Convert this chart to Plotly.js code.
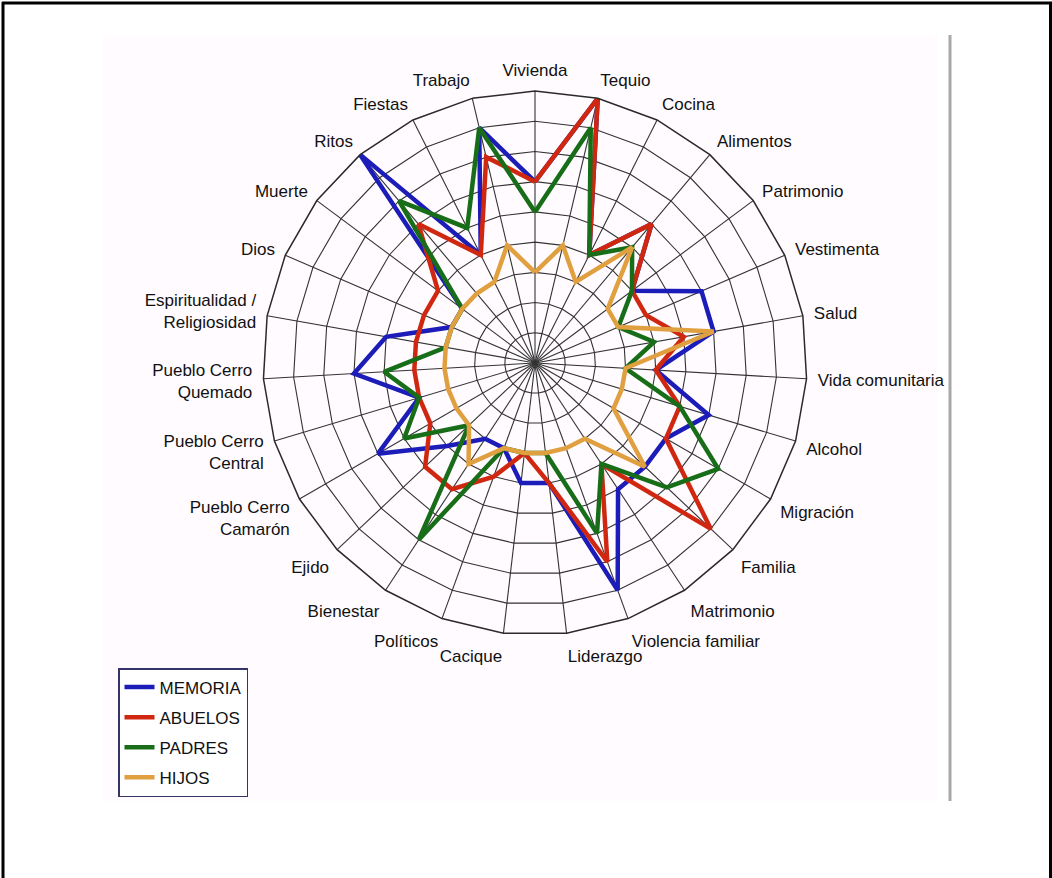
<!DOCTYPE html>
<html>
<head>
<meta charset="utf-8">
<script src="https://cdn.plot.ly/plotly-3.0.1.min.js"></script>
<style>
  html, body { margin: 0; padding: 0; background: #ffffff; }
  #chart { width: 1052px; height: 878px; }
</style>
</head>
<body>
<div id="chart"></div>
<script>
// Categories, clockwise from the top
const categories = [
  "Vivienda", "Tequio", "Cocina", "Alimentos", "Patrimonio", "Vestimenta", "Salud",
  "Vida comunitaria", "Alcohol", "Migración", "Familia", "Matrimonio", "Violencia familiar",
  "Liderazgo", "Cacique", "Políticos", "Bienestar", "Ejido", "Pueblo Cerro Camarón",
  "Pueblo Cerro Central", "Pueblo Cerro Quemado", "Espiritualidad / Religiosidad",
  "Dios", "Muerte", "Ritos", "Fiestas", "Trabajo"
];
const tickLabels = [
  "Vivienda", "Tequio", "Cocina", "Alimentos", "Patrimonio", "Vestimenta", "Salud",
  "Vida comunitaria", "Alcohol", "Migración", "Familia", "Matrimonio", "Violencia familiar",
  "Liderazgo", "Cacique", "Políticos", "Bienestar", "Ejido", "Pueblo Cerro<br>Camarón",
  "Pueblo Cerro<br>Central", "Pueblo Cerro<br>Quemado", "Espiritualidad /<br>Religiosidad",
  "Dios", "Muerte", "Ritos", "Fiestas", "Trabajo"
];

const seriesNames = ["MEMORIA", "ABUELOS", "PADRES", "HIJOS"];
const memoria = [6, 9, 4, 6, 4, 6, 6, 4, 6, 5, 5, 5, 8, 4, 4, 3, 3, 4, 6, 4, 6, 5, 3, 3, 9, 4, 8];
const abuelos = [6, 9, 4, 6, 4, 4, 5, 4, 5, 5, 8, 4, 7, 4, 3, 4, 5, 5, 4, 4, 4, 4, 4, 4, 6, 4, 7];
const padres  = [5, 8, 4, 5, 4, 3, 4, 3, 5, 7, 6, 4, 6, 3, 3, 3, 7, 3, 5, 4, 5, 3, 3, 3, 7, 5, 8];
const hijos   = [3, 4, 3, 5, 3, 3, 6, 3, 3, 3, 5, 3, 3, 3, 3, 3, 4, 3, 3, 3, 3, 3, 3, 3, 3, 3, 4];

const seriesValues = [memoria, abuelos, padres, hijos];
const seriesColors = ["#1c1cb8", "#d02810", "#186e18", "#e0a040"];

const W = 1052, H = 878;
const px = (x) => x / W;
const py = (y) => 1 - y / H;

const traces = seriesValues.map((vals, i) => ({
  type: "scatterpolar",
  mode: "lines",
  name: seriesNames[i],
  legendgroup: "g" + i,
  r: vals.concat([vals[0]]),
  theta: categories.concat([categories[0]]),
  line: { color: seriesColors[i], width: 4.5, shape: "linear" },
  hoverinfo: "name+theta+r"
}));

const layout = {
  width: W,
  height: H,
  margin: { l: 0, r: 0, t: 0, b: 0 },
  paper_bgcolor: "#ffffff",
  plot_bgcolor: "#ffffff",
  font: { family: "Liberation Sans, Arial, sans-serif", size: 17, color: "#111111" },
  showlegend: true,
  legend: {
    x: px(118), xanchor: "left",
    y: py(668), yanchor: "top",
    bgcolor: "#ffffff",
    bordercolor: "#34346a",
    borderwidth: 1.5,
    traceorder: "grouped",
    tracegroupgap: 5,
    font: { family: "Liberation Sans, Arial, sans-serif", size: 17, color: "#111111" },
    itemwidth: 30
  },
  polar: {
    domain: { x: [px(263), px(807)], y: [py(635), py(91)] },
    bgcolor: "rgba(0,0,0,0)",
    gridshape: "linear",
    radialaxis: {
      range: [0, 9],
      dtick: 1,
      tick0: 0,
      showticklabels: false,
      ticks: "",
      showline: false,
      showgrid: true,
      gridcolor: "#333333",
      gridwidth: 1.1,
      angle: 90
    },
    angularaxis: {
      type: "category",
      categoryorder: "array",
      categoryarray: categories,
      tickmode: "array",
      tickvals: categories,
      ticktext: tickLabels,
      direction: "clockwise",
      rotation: 90,
      showline: true,
      linecolor: "#2a2a2a",
      linewidth: 1.5,
      showgrid: true,
      gridcolor: "#333333",
      gridwidth: 1.1,
      ticks: "outside",
      ticklen: 7,
      tickcolor: "rgba(0,0,0,0)",
      tickfont: { family: "Liberation Sans, Arial, sans-serif", size: 17, color: "#111111" }
    }
  },
  shapes: [
    { type: "rect", xref: "paper", yref: "paper", layer: "below",
      x0: px(103), x1: px(938), y0: py(801), y1: py(35),
      line: { width: 0 }, fillcolor: "#fffbff" },
    { type: "line", xref: "paper", yref: "paper",
      x0: px(950), x1: px(950), y0: py(801), y1: py(35),
      line: { color: "#a8a8a8", width: 3 } },
    { type: "line", xref: "paper", yref: "paper",
      x0: px(2), x1: px(1052), y0: py(3), y1: py(3),
      line: { color: "#000000", width: 3 } },
    { type: "line", xref: "paper", yref: "paper",
      x0: px(3), x1: px(3), y0: py(2), y1: py(878),
      line: { color: "#000000", width: 3 } },
    { type: "line", xref: "paper", yref: "paper",
      x0: px(1050.5), x1: px(1050.5), y0: py(2), y1: py(878),
      line: { color: "#000000", width: 3 } }
  ]
};

Plotly.newPlot("chart", traces, layout, { displayModeBar: false, staticPlot: true });
</script>
</body>
</html>
